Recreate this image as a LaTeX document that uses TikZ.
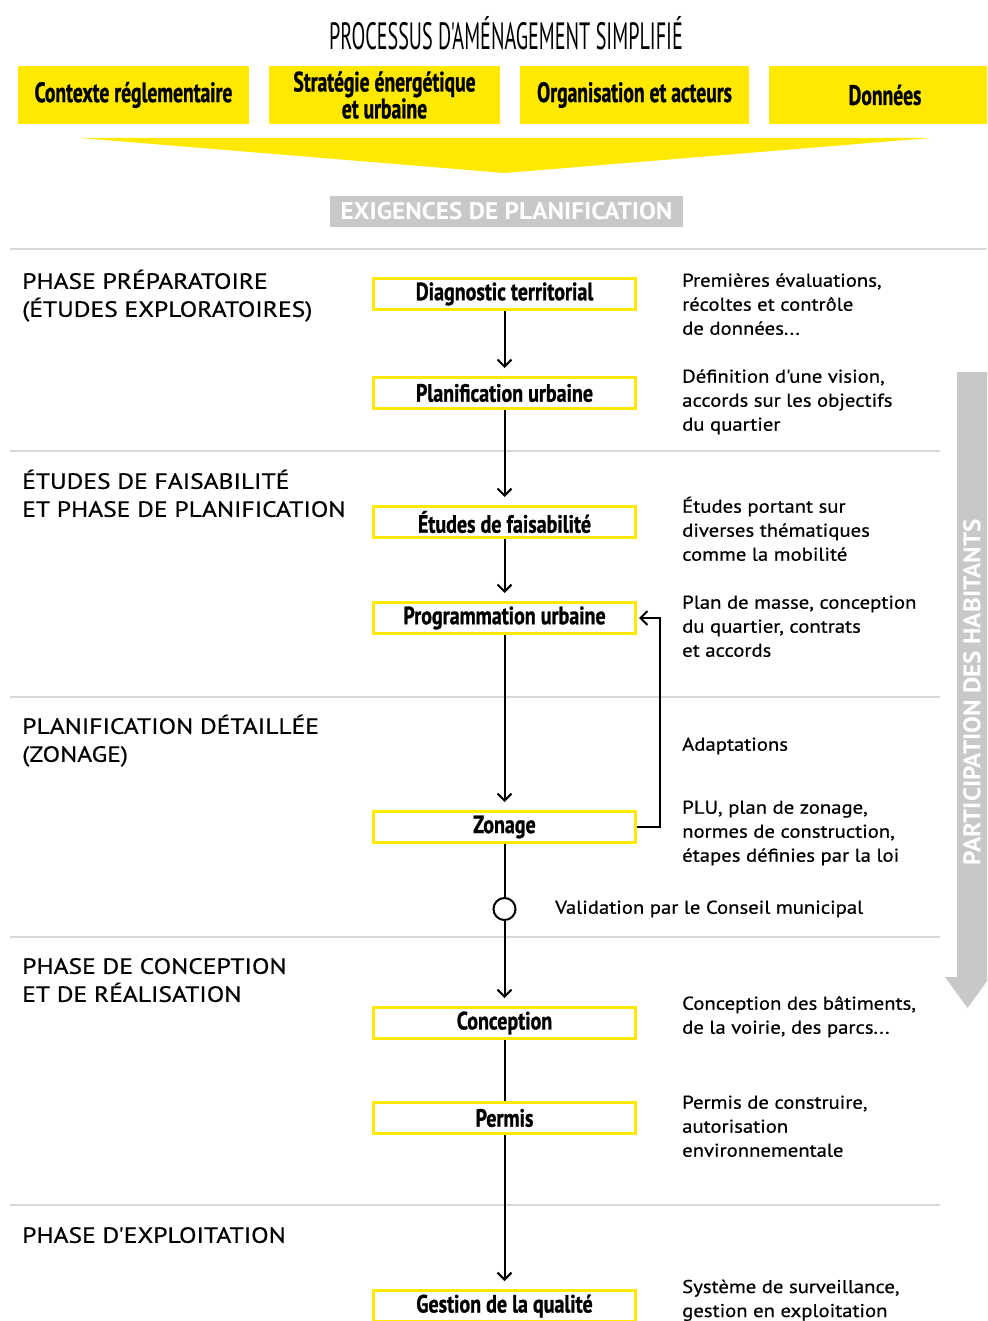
\documentclass[tikz,border=0pt]{standalone}
\usepackage{fontspec}
\setmainfont{PT Sans}
\newfontfamily\condf[FakeStretch=0.70, FakeBold=1]{PT Sans}
\newfontfamily\procf[FakeStretch=0.80, FakeBold=1]{PT Sans}
\newfontfamily\titlef[FakeStretch=0.53]{PT Sans}
\newfontfamily\sidef[FakeStretch=1.05]{PT Sans}
\newfontfamily\descf[FakeStretch=1.12, FakeBold=0.6]{PT Sans}
\newfontfamily\phasef[FakeStretch=1.16, FakeBold=0.6]{PT Sans}
\usetikzlibrary{arrows.meta}
\definecolor{ylw}{HTML}{FFE900}
\definecolor{gry}{HTML}{C8C8C8}
\definecolor{sepc}{HTML}{D8D8D8}
\begin{document}
\begin{tikzpicture}[x=1pt,y=-1pt,
  topbox/.style={fill=ylw, minimum height=58pt, inner sep=0pt, align=center,
    font=\condf\bfseries\fontsize{28}{24}\selectfont},
  procbox/.style={draw=ylw, line width=3pt, fill=white, minimum width=262pt,
    minimum height=31pt, inner sep=0pt, font=\procf\bfseries\fontsize{25}{26}\selectfont},
  phase/.style={anchor=north west, inner sep=0pt, align=left,
    font=\phasef\fontsize{22}{28}\selectfont},
  desc/.style={anchor=north west, inner sep=0pt, align=left,
    font=\descf\fontsize{18.5}{24}\selectfont},
  sepline/.style={draw=sepc, line width=2pt},
  conn/.style={draw=black, line width=2pt},
  arr/.style={conn, -{Straight Barb[length=7pt,width=14pt]}, shorten >=8pt}
]
\useasboundingbox (0,0) rectangle (987,1321);
\clip (0,0) rectangle (987,1321);

% title
\node[font=\titlef\fontsize{38}{40}\selectfont] (title) at (506,33) {PROCESSUS D'AMÉNAGEMENT SIMPLIFIÉ};

% top yellow boxes
\node[topbox, minimum width=231pt] (t1) at (133.5,95) {Contexte réglementaire};
\node[topbox, minimum width=231pt] (t2) at (384.5,95) {Stratégie énergétique\\et urbaine};
\node[topbox, minimum width=229pt] (t3) at (634.5,95) {Organisation et acteurs};
\node[topbox, minimum width=232pt] (t4) at (885,95) {Données};

% big yellow funnel
\fill[ylw] (80,138) -- (930,138) -- (505,173) -- cycle;

% grey label
\node[fill=gry, text=white, minimum width=353pt, minimum height=31pt, inner sep=0pt,
  font=\sidef\bfseries\fontsize{24}{24}\selectfont] (exig) at (506.5,211.5) {EXIGENCES DE PLANIFICATION};

% separators
\draw[sepline] (10,249) -- (987,249);
\draw[sepline] (10,451) -- (940,451);
\draw[sepline] (10,697) -- (940,697);
\draw[sepline] (10,937) -- (940,937);
\draw[sepline] (10,1205) -- (940,1205);

% participation arrow
\fill[gry] (957,372) rectangle (990,977);
\fill[gry] (945,977) -- (990,977) -- (967.5,1008) -- cycle;
\node[rotate=90, text=white, inner sep=0pt, font=\sidef\bfseries\fontsize{24}{24}\selectfont] (part) at (972,692) {PARTICIPATION DES HABITANTS};

% phase labels
\node[phase] (p1) at (22,269) {\strut PHASE PRÉPARATOIRE\\(ÉTUDES EXPLORATOIRES)};
\node[phase] (p2) at (22,469) {\strut ÉTUDES DE FAISABILITÉ\\ET PHASE DE PLANIFICATION};
\node[phase] (p3) at (22,714) {\strut PLANIFICATION DÉTAILLÉE\\(ZONAGE)};
\node[phase] (p4) at (22,954) {\strut PHASE DE CONCEPTION\\ET DE RÉALISATION};
\node[phase] (p5) at (22,1223) {\strut PHASE D'EXPLOITATION};

% process boxes
\node[procbox] (diag) at (504.5,294) {Diagnostic territorial};
\node[procbox] (plan) at (504.5,393) {Planification urbaine};
\node[procbox] (etud) at (504.5,522) {Études de faisabilité};
\node[procbox] (prog) at (504.5,618) {Programmation urbaine};
\node[procbox] (zon)  at (504.5,827) {Zonage};
\node[draw=black, line width=2pt, fill=white, circle, minimum size=22pt, inner sep=0pt] (val) at (504.5,909) {};
\node[procbox] (conc) at (504.5,1023) {Conception};
\node[procbox] (perm) at (504.5,1118) {Permis};
\node[procbox] (gest) at (504.5,1306) {Gestion de la qualité};

% connectors
\draw[arr] (diag.south) -- (plan.north);
\draw[arr] (plan.south) -- (etud.north);
\draw[arr] (etud.south) -- (prog.north);
\draw[arr] (prog.south) -- (zon.north);
\draw[conn] (zon.south) -- (val.north);
\draw[arr] (val.south) -- (conc.north);
\draw[conn] (conc.south) -- (perm.north);
\draw[arr] (perm.south) -- (gest.north);
\draw[conn, -{Straight Barb[length=7pt,width=14pt]}, shorten >=2pt] (zon.east) -- ++(23,0) |- (prog.east);

% descriptions
\node[desc] (d1) at (682,269.7) {\strut Premières évaluations,\\récoltes et contrôle\\de données...};
\node[desc] (d2) at (682,365.7) {\strut Définition d'une vision,\\accords sur les objectifs\\du quartier};
\node[desc] (d3) at (682,495.7) {\strut Études portant sur\\diverses thématiques\\comme la mobilité};
\node[desc] (d4) at (682,591.7) {\strut Plan de masse, conception\\du quartier, contrats\\et accords};
\node[desc] (d5) at (682,733.7) {\strut Adaptations};
\node[desc] (d6) at (682,796.7) {\strut PLU, plan de zonage,\\normes de construction,\\étapes définies par la loi};
\node[anchor=west, inner sep=0pt, font=\descf\fontsize{18.5}{24}\selectfont] (d7) at (555,909) {Validation par le Conseil municipal};
\node[desc] (d8) at (682,992.7) {\strut Conception des bâtiments,\\de la voirie, des parcs...};
\node[desc] (d9) at (682,1091.7) {\strut Permis de construire,\\autorisation\\environnementale};
\node[desc] (d10) at (682,1276) {\strut Système de surveillance,\\gestion en exploitation};
\end{tikzpicture}
\end{document}
